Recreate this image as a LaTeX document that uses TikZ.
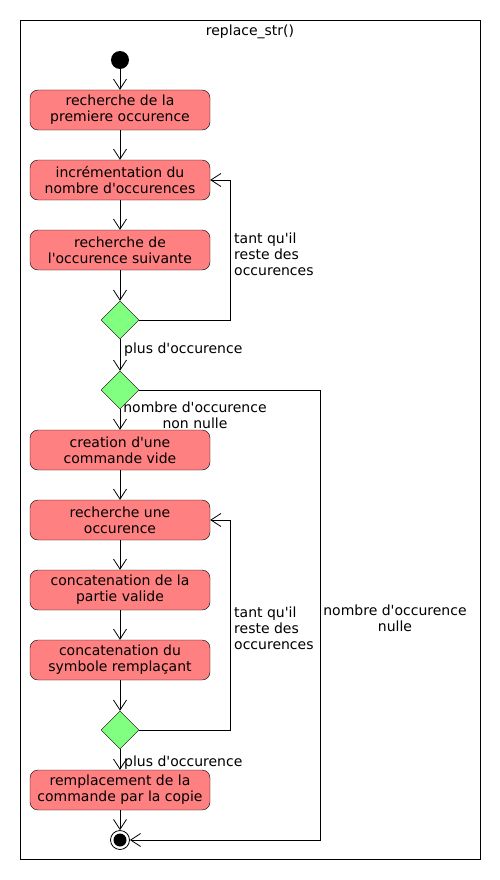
\documentclass[tikz,border=0pt]{standalone}
\usepackage{fontspec}
\setmainfont{DejaVu Sans}[Ligatures=TeXOff]
\usepackage{xcolor}
\usetikzlibrary{shapes.geometric, arrows.meta, positioning}
\definecolor{actfill}{HTML}{FF8080}
\definecolor{decfill}{HTML}{80FF80}

\begin{document}
\begin{tikzpicture}[x=1pt, y=-1pt, font=\fontsize{14}{16}\selectfont,
            activity/.style={draw, rectangle, rounded corners=8pt, fill=actfill, minimum width=180pt, minimum height=40pt, align=center, inner sep=0pt},
            decision/.style={draw, diamond, fill=decfill, minimum width=38pt, minimum height=38pt, inner sep=0pt},
            flow/.style={-{Straight Barb[length=10pt, width=13pt]}, line width=0.8pt},
            lbl/.style={align=left, inner sep=0pt}]
            \useasboundingbox (0,0) rectangle (500,880);
            \draw[line width=0.8pt] (20,20) rectangle (480,859);
            \node (titre) at (250,32) {replace\_str()};

            \node[circle, fill=black, minimum size=18pt, inner sep=0pt] (debut) at (120,60) {};
            \node[activity] (premiere) at (120,110) {recherche de la\\premiere occurence};
            \node[activity] (increment) at (120,180) {incrémentation du\\nombre d'occurences};
            \node[activity] (suivante) at (120,250) {recherche de\\l'occurence suivante};
            \node[decision] (test1) at (120,320) {};
            \node[decision] (test2) at (120,390) {};
            \node[activity] (creation) at (120,450) {creation d'une\\commande vide};
            \node[activity] (recherche) at (120,520) {recherche une\\occurence};
            \node[activity] (partie) at (120,590) {concatenation de la\\partie valide};
            \node[activity] (symbole) at (120,660) {concatenation du\\symbole remplaçant};
            \node[decision] (test3) at (120,730) {};
            \node[activity] (remplace) at (120,790) {remplacement de la\\commande par la copie};
            \node[circle, draw, fill=white, line width=0.8pt, minimum size=19pt, inner sep=0pt] (fin) at (120,840) {};
            \fill (fin) circle (6.5pt);

            \draw[flow] (debut) -- (premiere);
            \draw[flow] (premiere) -- (increment);
            \draw[flow] (increment) -- (suivante);
            \draw[flow] (suivante) -- (test1);
            \draw[flow] (test1.east) -| ([xshift=20pt]increment.east) -- (increment.east);
            \draw[flow] (test1) -- (test2);
            \draw[flow] (test2) -- (creation);
            \draw[flow] (test2.east) -| ([xshift=190pt]fin.east) -- (fin.east);
            \draw[flow] (creation) -- (recherche);
            \draw[flow] (recherche) -- (partie);
            \draw[flow] (partie) -- (symbole);
            \draw[flow] (symbole) -- (test3);
            \draw[flow] (test3.east) -| ([xshift=20pt]recherche.east) -- (recherche.east);
            \draw[flow] (test3) -- (remplace);
            \draw[flow] (remplace) -- (fin);

            \node[lbl, anchor=west] (boucle1) at (234,254) {tant qu'il\\reste des\\occurences};
            \node[lbl, anchor=west] (plus1) at (124,350) {plus d'occurence};
            \node[align=center, inner sep=0pt] (nonnulle) at (195,415) {nombre d'occurence\\non nulle};
            \node[lbl, anchor=west] (boucle2) at (234,628) {tant qu'il\\reste des\\occurences};
            \node[align=center, inner sep=0pt] (nulle) at (395,618) {nombre d'occurence\\nulle};
            \node[lbl, anchor=west] (plus2) at (124,763) {plus d'occurence};
        \end{tikzpicture}
\end{document}
